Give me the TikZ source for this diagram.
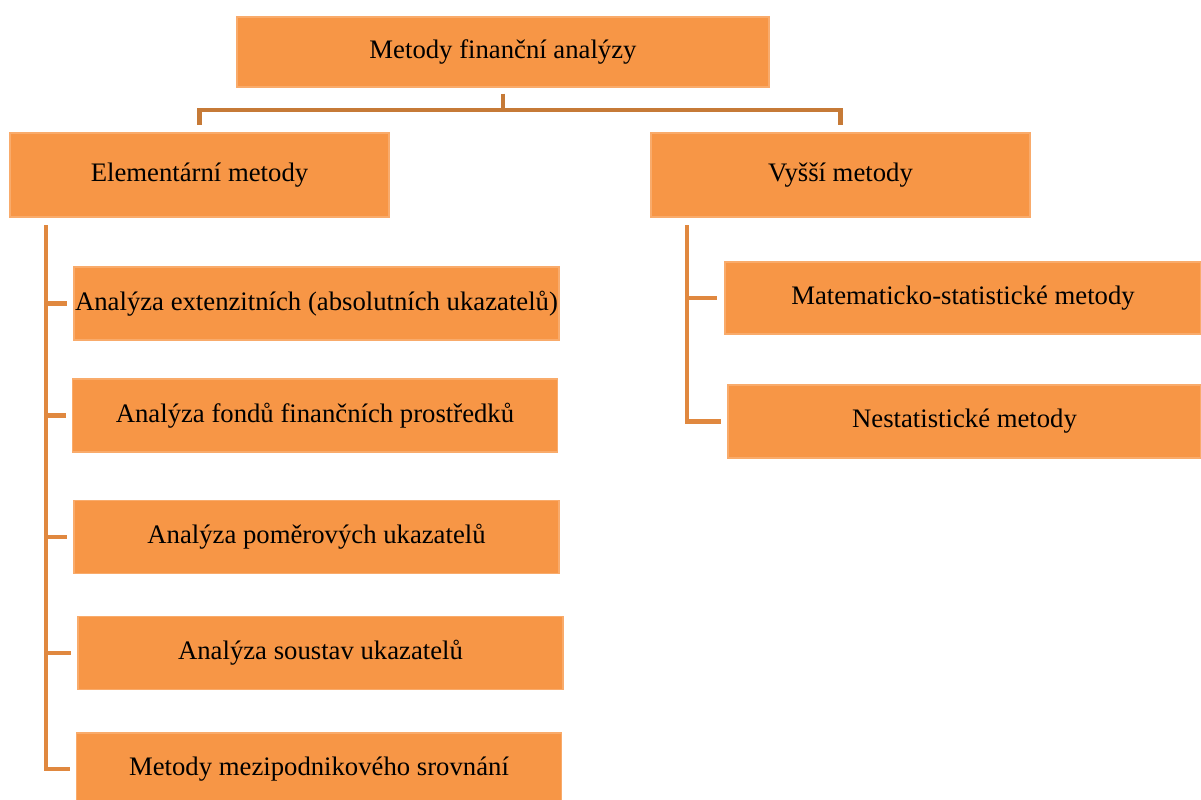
\documentclass[tikz,border=0pt]{standalone}
\usepackage{fontspec}
\setmainfont{Liberation Serif}
\usepackage{xcolor}
\usetikzlibrary{positioning}
\definecolor{boxorange}{HTML}{F79646}
\definecolor{linkdark}{HTML}{C67A37}
\definecolor{linkside}{HTML}{E0883F}

\begin{document}
\begin{tikzpicture}[
    font=\fontsize{7.6}{9}\selectfont,
    box/.style={fill=boxorange, draw=boxorange!80!white, line width=0.3pt, minimum width=#1, inner sep=0pt, align=center},
    box/.default=4.85cm,
    toplink/.style={draw=linkdark, line width=1.4pt},
    sidelink/.style={draw=linkside, line width=1.4pt}
  ]
    \useasboundingbox (0,0) rectangle (12.01,-7.99);

    \node[box=5.32cm, minimum height=0.70cm] (root) at (5.03,-0.52) {Metody finanční analýzy};
    \node[box=3.79cm, minimum height=0.84cm] (elem) at (1.995,-1.75) {Elementární metody};
    \node[box=3.79cm, minimum height=0.84cm] (vyssi) at (8.405,-1.75) {Vyšší metody};

    \node[box, minimum height=0.73cm] (ext) at (3.165,-3.035) {Analýza extenzitních (absolutních ukazatelů)};
    \node[box, minimum height=0.73cm] (fond) at (3.15,-4.155) {Analýza fondů finančních prostředků};
    \node[box, minimum height=0.73cm] (pomer) at (3.165,-5.37) {Analýza poměrových ukazatelů};
    \node[box, minimum height=0.73cm] (soust) at (3.205,-6.53) {Analýza soustav ukazatelů};
    \node[box, minimum height=0.72cm] (mezi) at (3.19,-7.69) {Metody mezipodnikového srovnání};

    \node[box=4.76cm, minimum height=0.72cm] (mat) at (9.63,-2.98) {Matematicko-statistické metody};
    \node[box=4.73cm, minimum height=0.73cm] (nest) at (9.645,-4.215) {Nestatistické metody};

    % stromova spojnice nahore
    \coordinate (split) at (5.03,-1.10);
    \draw[toplink] ([yshift=-0.06cm]root.south) -- (split);
    \draw[toplink] (split) -| ([yshift=0.07cm]elem.north);
    \draw[toplink] (split) -| ([yshift=0.07cm]vyssi.north);

    % leva lista
    \coordinate (ltop) at (0.46,-2.25);
    \draw[sidelink] (ltop) |- ([xshift=-0.06cm]mezi.west);
    \foreach \n in {ext,fond,pomer,soust} {
      \draw[sidelink] (ltop |- \n.west) -- ([xshift=-0.06cm]\n.west);
    }

    % prava lista
    \coordinate (rtop) at (6.87,-2.25);
    \draw[sidelink] (rtop) |- ([xshift=-0.06cm]nest.west);
    \draw[sidelink] (rtop |- mat.west) -- ([xshift=-0.07cm]mat.west);
  \end{tikzpicture}
\end{document}
